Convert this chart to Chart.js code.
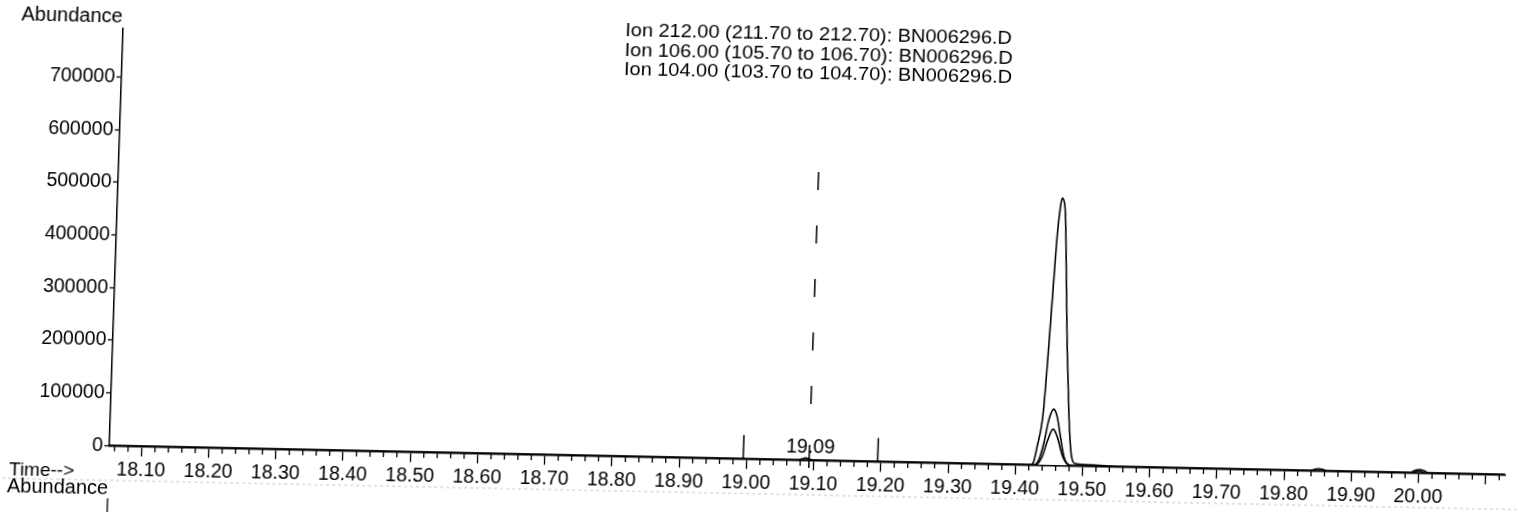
<!DOCTYPE html>
<html><head><meta charset="utf-8">
<script src="https://cdn.jsdelivr.net/npm/chart.js@4.4.1/dist/chart.umd.min.js"></script>
<style>
html,body{margin:0;padding:0;background:#fff;overflow:hidden;width:1518px;height:512px;}
#wrap{position:absolute;left:0;top:0;width:1545px;height:530px;transform-origin:0 0;transform:matrix(1,0.0208,-0.033,1,0,0);}
canvas{display:block;}
</style></head><body>
<div id="wrap"><canvas id="c" width="1545" height="530" style="width:1545px;height:530px"></canvas></div>
<script>
// ---- data ----
const titleLines = [
  'Ion 212.00 (211.70 to 212.70): BN006296.D',
  'Ion 106.00 (105.70 to 106.70): BN006296.D',
  'Ion 104.00 (103.70 to 104.70): BN006296.D'
];
const yAxisTitle = 'Abundance';
const xAxisTitle = 'Time-->';
const peakLabel = '19.09';

const xTickValues = [18.1, 18.2, 18.3, 18.4, 18.5, 18.6, 18.7, 18.8, 18.9, 19.0, 19.1, 19.2, 19.3, 19.4, 19.5, 19.6, 19.7, 19.8, 19.9, 20.0, 20.1];
const xTickLabels = ['18.10', '18.20', '18.30', '18.40', '18.50', '18.60', '18.70', '18.80', '18.90', '19.00', '19.10', '19.20', '19.30', '19.40', '19.50', '19.60', '19.70', '19.80', '19.90', '20.00', ''];
const yTickValues = [0, 100000, 200000, 300000, 400000, 500000, 600000, 700000];
const yTickLabels = ['0', '100000', '200000', '300000', '400000', '500000', '600000', '700000'];

const t212 = [18.052, 19.076, 19.083, 19.088, 19.093, 19.100, 19.410, 19.4225, 19.4271, 19.4315, 19.4388, 19.4438, 19.448, 19.4515, 19.4544, 19.4565, 19.459, 19.462, 19.4668, 19.4712, 19.477, 19.481, 19.4843, 19.4893, 19.507, 19.536, 19.555, 19.838, 19.846, 19.851, 19.857, 19.864, 19.986, 19.994, 20.001, 20.008, 20.015, 20.128];
const v212 = [0, 0, 2500, 4500, 2500, 0, 0, 0, 6600, 35300, 98900, 225200, 352000, 447000, 491000, 507000, 504000, 479000, 352500, 226000, 99800, 36600, 11400, 4000, 2500, 1300, 0, 0, 3000, 4000, 3000, 0, 0, 4500, 6500, 4500, 0, 0];

const t106 = [18.052, 19.4275, 19.4346, 19.4413, 19.4476, 19.4544, 19.4597, 19.4656, 19.4716, 19.477, 19.485, 19.990, 19.997, 20.003, 20.010, 20.128];
const v106 = [0, 0, 10000, 42000, 86300, 106800, 93000, 55000, 17300, 3600, 0, 0, 3000, 3000, 0, 0];

const t104 = [18.052, 19.4299, 19.4395, 19.4462, 19.4545, 19.4607, 19.469, 19.477, 19.485, 20.128];
const v104 = [0, 0, 16500, 45200, 68900, 55000, 20500, 3000, 0, 0];

// expected retention time (dashed) and found retention time tick
const rtTime = 19.093;
const rtDashValues = [547000, 101000];
const rtTickValues = [29200, -14400];
// integration window markers
const integTimes = [18.995, 19.195];
const integValues = [[45500, 0], [45000, 0]];

const xMin = 18.052, xMax = 20.1285;
const yMax = 793000;

// ---- chart ----
const pts = (ts, vs) => ts.map((t, i) => ({x: t, y: vs[i]}));
const FONT = "'Liberation Sans', Arial, Helvetica, sans-serif";
Chart.defaults.font.family = FONT;
Chart.defaults.font.size = 19.5;
Chart.defaults.color = '#000';

const traceStyle = {showLine: true, pointRadius: 0, borderColor: '#000', borderWidth: 1.6, cubicInterpolationMode: 'monotone', fill: false};
const markStyle = {showLine: true, pointRadius: 0, borderColor: '#000', borderWidth: 1.5, clip: false, fill: false};

const datasets = [
  Object.assign({label: titleLines[0], data: pts(t212, v212)}, traceStyle),
  Object.assign({label: titleLines[1], data: pts(t106, v106)}, traceStyle),
  Object.assign({label: titleLines[2], data: pts(t104, v104)}, traceStyle),
  Object.assign({label: 'rt-dash', data: pts([rtTime, rtTime], rtDashValues), borderDash: [18, 35.5]}, markStyle),
  Object.assign({label: 'rt-tick', data: pts([rtTime, rtTime], rtTickValues)}, markStyle),
  Object.assign({label: 'int-a', data: pts([integTimes[0], integTimes[0]], integValues[0])}, markStyle),
  Object.assign({label: 'int-b', data: pts([integTimes[1], integTimes[1]], integValues[1])}, markStyle)
];

const decor = {
  id: 'decor',
  afterDraw(chart) {
    const ctx = chart.ctx, xs = chart.scales.x, ys = chart.scales.y;
    const ca = chart.chartArea;
    ctx.save();
    ctx.strokeStyle = '#000';
    ctx.lineWidth = 1.3;
    // minor ticks every 0.02
    for (let k = Math.ceil(xMin / 0.02); k * 0.02 <= xMax; k++) {
      if (k % 5 === 0) continue;
      const px = xs.getPixelForValue(k * 0.02);
      ctx.beginPath(); ctx.moveTo(px, ca.bottom); ctx.lineTo(px, ca.bottom + 5.5); ctx.stroke();
    }
    // start of the next panel's axis
    ctx.beginPath(); ctx.moveTo(ca.left, 496); ctx.lineTo(ca.left, 530); ctx.stroke();
    // faint paper edge seen in the scan
    ctx.strokeStyle = '#c8c8c8'; ctx.lineWidth = 1; ctx.setLineDash([3, 3]);
    ctx.beginPath(); ctx.moveTo(0, 478); ctx.lineTo(1545, 478); ctx.stroke();
    ctx.setLineDash([]);
    ctx.fillStyle = '#000';
    ctx.textBaseline = 'alphabetic';
    ctx.textAlign = 'left';
    ctx.font = '20px ' + FONT;
    ctx.fillText(yAxisTitle, 22, 19.5);
    ctx.fillText(yAxisTitle, 23, 491.5);
    ctx.font = '19px ' + FONT;
    ctx.fillText(xAxisTitle, 24.5, 474.5);
    titleLines.forEach((s, i) => {
      ctx.save();
      ctx.translate(626, 23 + i * 19.5);
      ctx.scale(1.05, 1);
      ctx.fillText(s, 0, 0);
      ctx.restore();
    });
    ctx.font = '19.5px ' + FONT;
    ctx.textAlign = 'center';
    ctx.fillText(peakLabel, xs.getPixelForValue(rtTime) + 1, ys.getPixelForValue(14000));
    ctx.restore();
  }
};

new Chart(document.getElementById('c'), {
  type: 'scatter',
  data: {datasets},
  plugins: [decor],
  options: {
    responsive: false,
    animation: false,
    devicePixelRatio: 1,
    layout: {padding: {top: 25.4, right: 25, left: 0, bottom: 0}},
    plugins: {legend: {display: false}, tooltip: {enabled: false}},
    scales: {
      x: {
        type: 'linear', position: 'bottom', min: xMin, max: xMax,
        afterFit: s => { s.height = 530 - 443.4; },
        afterBuildTicks: s => { s.ticks = xTickValues.map(v => ({value: v})); },
        grid: {drawOnChartArea: false, drawTicks: true, tickLength: 10, tickWidth: 1.3, tickColor: '#000'},
        border: {display: true, color: '#000', width: 1.5},
        ticks: {
          autoSkip: false, maxRotation: 0, padding: 3,
          color: '#000', font: {size: 19.5},
          callback: (v, i) => xTickLabels[i]
        }
      },
      y: {
        type: 'linear', min: 0, max: yMax,
        afterFit: s => { s.width = 124; },
        afterBuildTicks: s => { s.ticks = yTickValues.map(v => ({value: v})); },
        grid: {drawOnChartArea: false, drawTicks: true, tickLength: 5, tickWidth: 1.3, tickColor: '#000'},
        border: {display: true, color: '#000', width: 1.5},
        ticks: {autoSkip: false, padding: 1.5, color: '#000', font: {size: 19.5},
          callback: (v, i) => yTickLabels[i]}
      }
    }
  }
});
</script>
</body></html>
